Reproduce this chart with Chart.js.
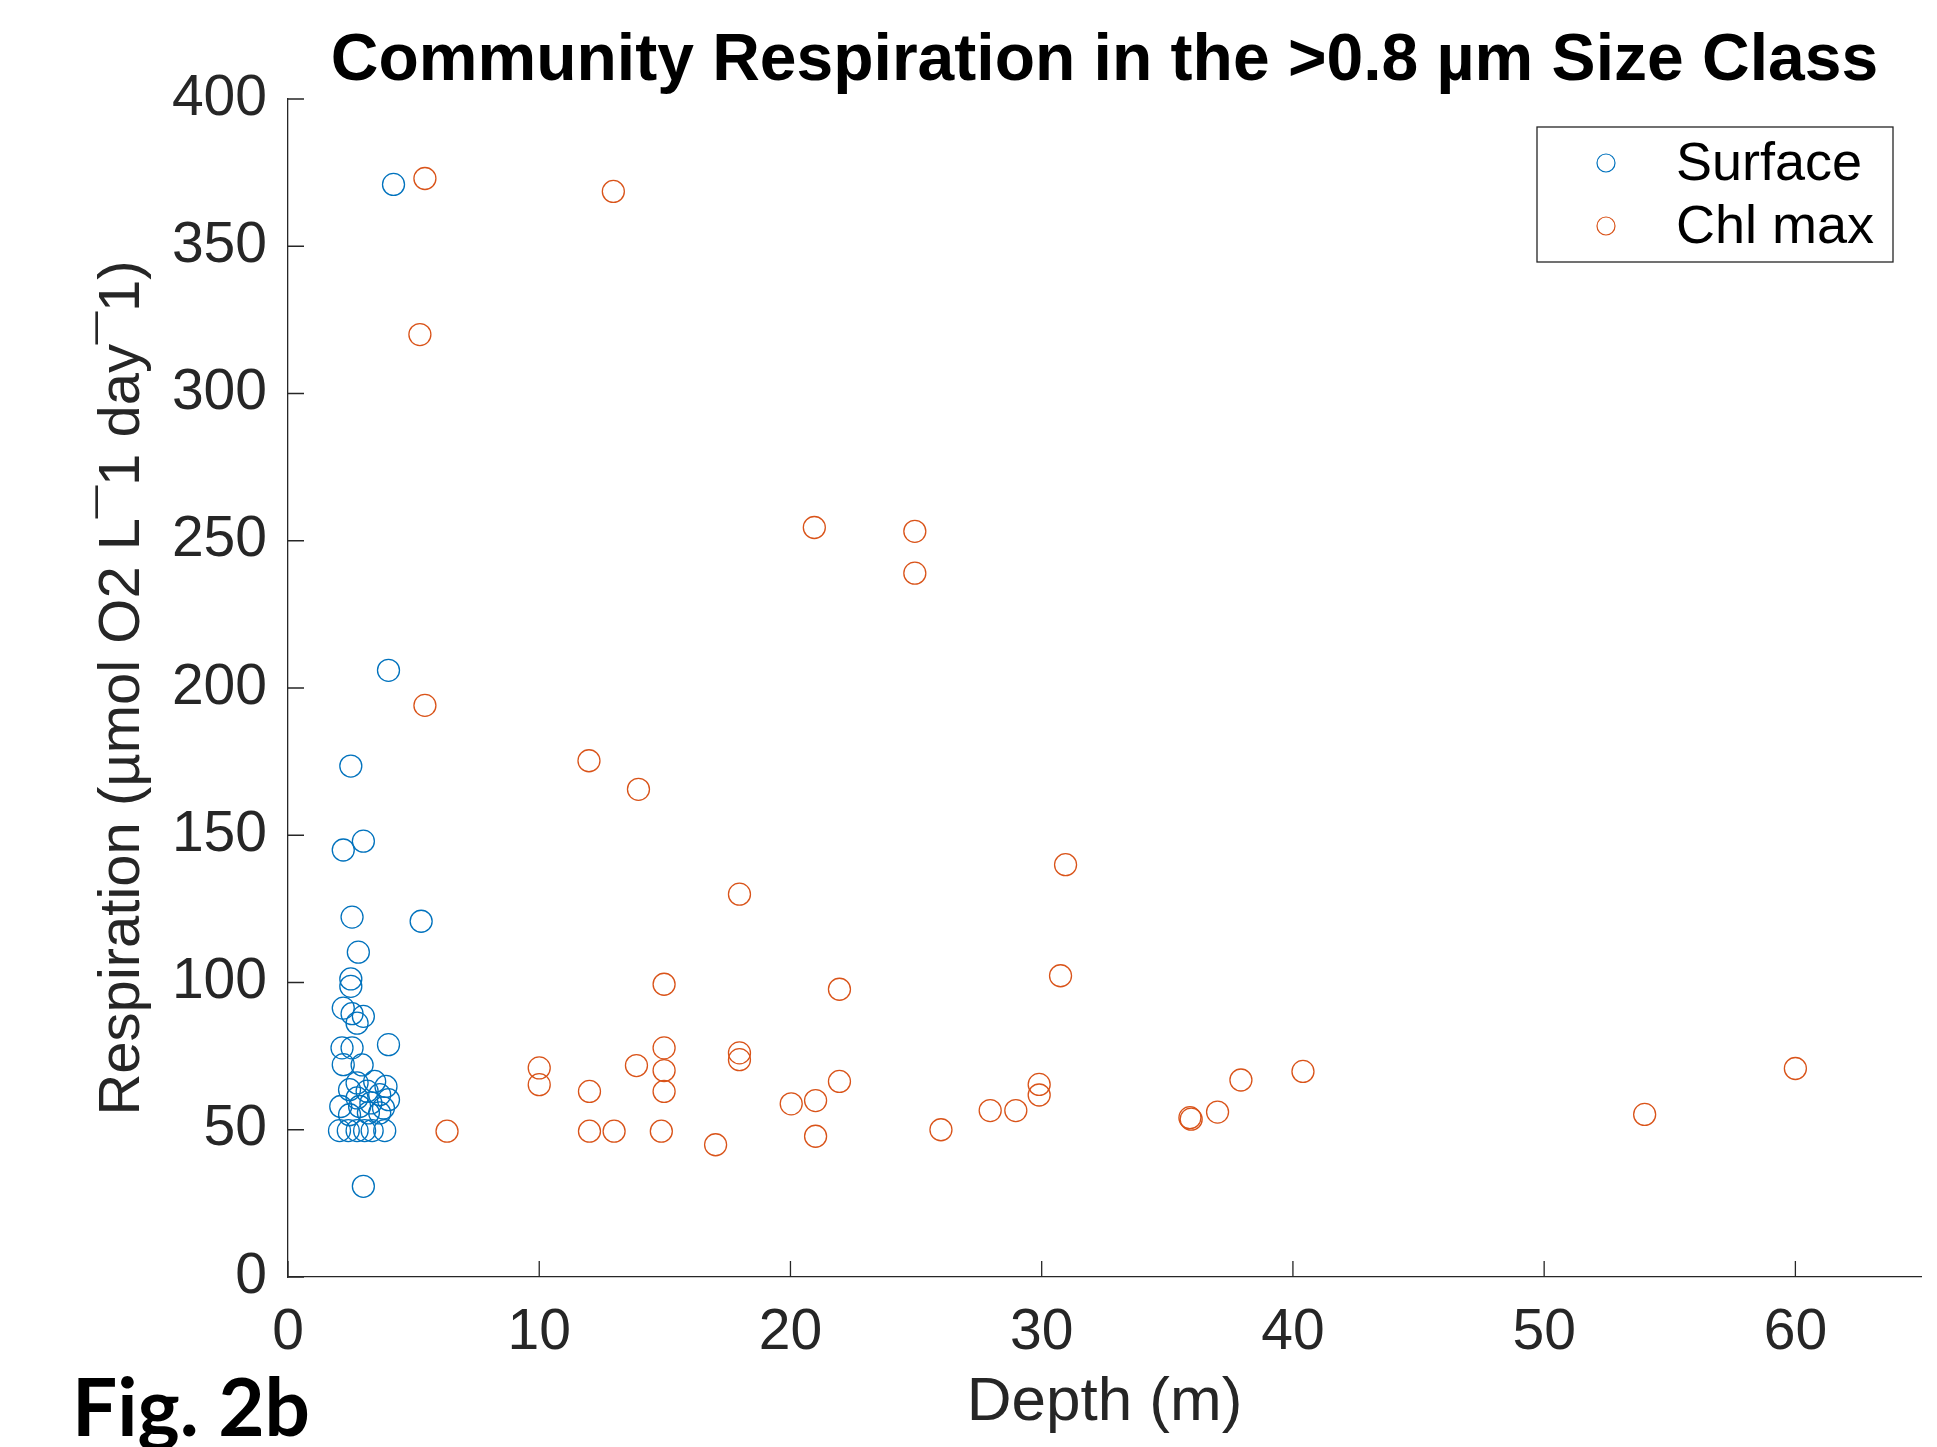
<!DOCTYPE html>
<html>
<head>
<meta charset="utf-8">
<script src="https://cdn.jsdelivr.net/npm/chart.js@4.4.1/dist/chart.umd.min.js"></script>
<style>
    html, body { margin: 0; padding: 0; background: #fff; }
    #wrap { width: 1937px; height: 1447px; }
</style>
</head>
<body>
<div id="wrap"><canvas id="respChart" width="1937" height="1447"></canvas></div>
<script>
// Surface samples: depth (m) and respiration
const surfaceDepth = [4.2, 4.0, 2.5, 2.2, 3.0, 2.55, 5.3, 2.8, 2.5, 2.5, 2.2, 2.55, 3.0, 2.75, 4.0, 2.15, 2.55,
    2.2, 2.95, 3.45, 2.75, 3.9, 2.45, 3.15, 3.65, 2.75, 4.0, 3.3, 2.1, 2.85, 3.8, 2.45, 3.2, 3.65,
    2.05, 2.4, 2.75, 3.05, 3.35, 3.85, 3.0];
const surfaceResp = [371, 206, 173.5, 145, 148, 122.2, 120.8, 110.3, 101.2, 98.7, 91.3, 89.4, 88.5, 86.2, 78.9, 77.8, 77.8,
    72.1, 72.0, 66.4, 65.9, 64.7, 63.6, 63.1, 61.9, 60.8, 60.2, 59.1, 57.9, 57.9, 57.4, 55.1, 55.7, 55.7,
    49.7, 49.7, 49.7, 49.7, 49.7, 49.7, 30.8];

// Chl max samples
const chlDepth = [5.45, 12.95, 5.25, 20.95, 24.95, 24.95, 5.45, 11.98, 13.95, 30.95, 17.97, 30.75, 14.97, 21.95,
    14.97, 17.97, 17.97, 13.87, 14.97, 10.0, 10.0, 40.4, 60.0, 21.95, 37.93, 29.9, 29.9, 14.97, 12.0,
    20.03, 21.0, 27.95, 28.97, 37.0, 35.9, 35.95, 54.0, 6.33, 12.0, 12.98, 14.86, 25.99, 21.0, 17.02];
const chlResp = [373, 368.6, 320, 254.5, 253.2, 239, 194.1, 175.3, 165.6, 140, 130, 102.3, 99.4, 97.7,
    77.8, 76.1, 73.8, 71.8, 70.1, 71.0, 65.3, 69.8, 70.8, 66.4, 66.9, 65.4, 61.8, 63.0, 63.0,
    58.8, 59.9, 56.5, 56.5, 56.0, 54.1, 53.6, 55.2, 49.5, 49.5, 49.5, 49.5, 50.0, 47.8, 44.9];

const seriesNames = ['Surface', 'Chl max'];
const seriesColors = ['#0072BD', '#D95319'];
const xTickValues = [0, 10, 20, 30, 40, 50, 60];
const yTickValues = [0, 50, 100, 150, 200, 250, 300, 350, 400];

const chartTitle = 'Community Respiration in the >0.8 \u00B5m Size Class';
const xTitle = 'Depth (m)';
const yTitle = 'Respiration (\u00B5mol O2 L\u00AF1 day\u00AF1)';
const figLabel = 'Fig. 2b';

const axisColor = '#262626';
const fontFam = '"Liberation Sans", Arial, Helvetica, sans-serif';

function toPoints(xs, ys) {
    return xs.map((x, i) => ({ x: x, y: ys[i] }));
}

// inward tick marks like matlab
const innerTicks = {
    id: 'innerTicks',
    afterDraw(chart) {
        const ctx = chart.ctx;
        const xs = chart.scales.x, ys = chart.scales.y;
        const len = 16;
        ctx.save();
        ctx.strokeStyle = axisColor;
        ctx.lineWidth = 1.3;
        ctx.beginPath();
        xTickValues.forEach(v => {
            const px = xs.getPixelForValue(v);
            ctx.moveTo(px, ys.bottom);
            ctx.lineTo(px, ys.bottom - len);
        });
        yTickValues.forEach(v => {
            const py = ys.getPixelForValue(v);
            ctx.moveTo(xs.left, py);
            ctx.lineTo(xs.left + len, py);
        });
        ctx.stroke();
        ctx.restore();
    }
};

// title, legend box and figure label
const decorations = {
    id: 'decorations',
    afterDraw(chart) {
        const ctx = chart.ctx;
        const area = chart.chartArea;
        ctx.save();

        ctx.fillStyle = '#000';
        ctx.font = 'bold 66px ' + fontFam;
        ctx.textAlign = 'center';
        ctx.textBaseline = 'alphabetic';
        ctx.fillText(chartTitle, (area.left + area.right) / 2, 80);

        // legend
        const lx = 1537, ly = 127, lw = 356, lh = 135;
        ctx.fillStyle = '#fff';
        ctx.fillRect(lx, ly, lw, lh);
        ctx.strokeStyle = axisColor;
        ctx.lineWidth = 1.3;
        ctx.strokeRect(lx, ly, lw, lh);
        const rowsY = [163, 226];
        chart.data.datasets.forEach((ds, i) => {
            ctx.beginPath();
            ctx.strokeStyle = ds.borderColor;
            ctx.lineWidth = 1.2;
            ctx.arc(1606, rowsY[i], 9, 0, Math.PI * 2);
            ctx.stroke();
            ctx.fillStyle = '#000';
            ctx.font = '54px ' + fontFam;
            ctx.textAlign = 'left';
            ctx.textBaseline = 'middle';
            ctx.fillText(ds.label, 1676, rowsY[i] + 2);
        });

        ctx.fillStyle = '#000';
        ctx.font = 'bold 80px Lato, "Open Sans", sans-serif';
        ctx.textAlign = 'left';
        ctx.textBaseline = 'alphabetic';
        ctx.fillText(figLabel, 72, 1436);
        ctx.restore();
    }
};

const ctx = document.getElementById('respChart').getContext('2d');
new Chart(ctx, {
    type: 'scatter',
    data: {
        datasets: [
            {
                label: seriesNames[0],
                data: toPoints(surfaceDepth, surfaceResp),
                borderColor: seriesColors[0],
                backgroundColor: 'rgba(0,0,0,0)',
                borderWidth: 1.3,
                pointRadius: 11,
                pointHoverRadius: 11
            },
            {
                label: seriesNames[1],
                data: toPoints(chlDepth, chlResp),
                borderColor: seriesColors[1],
                backgroundColor: 'rgba(0,0,0,0)',
                borderWidth: 1.3,
                pointRadius: 11,
                pointHoverRadius: 11
            }
        ]
    },
    options: {
        responsive: false,
        animation: false,
        events: [],
        layout: { padding: { top: 99, right: 16, bottom: 0, left: 0 } },
        plugins: {
            legend: { display: false },
            title: { display: false },
            tooltip: { enabled: false }
        },
        scales: {
            x: {
                type: 'linear',
                min: 0,
                max: 65,
                afterFit: function (scale) { scale.height = 170; },
                afterBuildTicks: function (scale) {
                    scale.ticks = xTickValues.map(v => ({ value: v }));
                },
                grid: { display: false, drawTicks: false },
                border: { display: true, color: axisColor, width: 1.3 },
                ticks: {
                    padding: 22,
                    color: axisColor,
                    font: { family: fontFam, size: 57 },
                    maxRotation: 0
                },
                title: {
                    display: true,
                    text: xTitle,
                    color: axisColor,
                    font: { family: fontFam, size: 62 },
                    padding: { top: 0, bottom: 7 }
                }
            },
            y: {
                type: 'linear',
                min: 0,
                max: 400,
                afterFit: function (scale) { scale.width = 288; },
                afterBuildTicks: function (scale) {
                    scale.ticks = yTickValues.map(v => ({ value: v }));
                },
                grid: { display: false, drawTicks: false },
                border: { display: true, color: axisColor, width: 1.3 },
                ticks: {
                    padding: 21,
                    color: axisColor,
                    font: { family: fontFam, size: 57 }
                },
                title: {
                    display: true,
                    text: yTitle,
                    color: axisColor,
                    font: { family: fontFam, size: 58 },
                    padding: { top: 88, bottom: 0 }
                }
            }
        }
    },
    plugins: [innerTicks, decorations]
});
</script>
</body>
</html>
